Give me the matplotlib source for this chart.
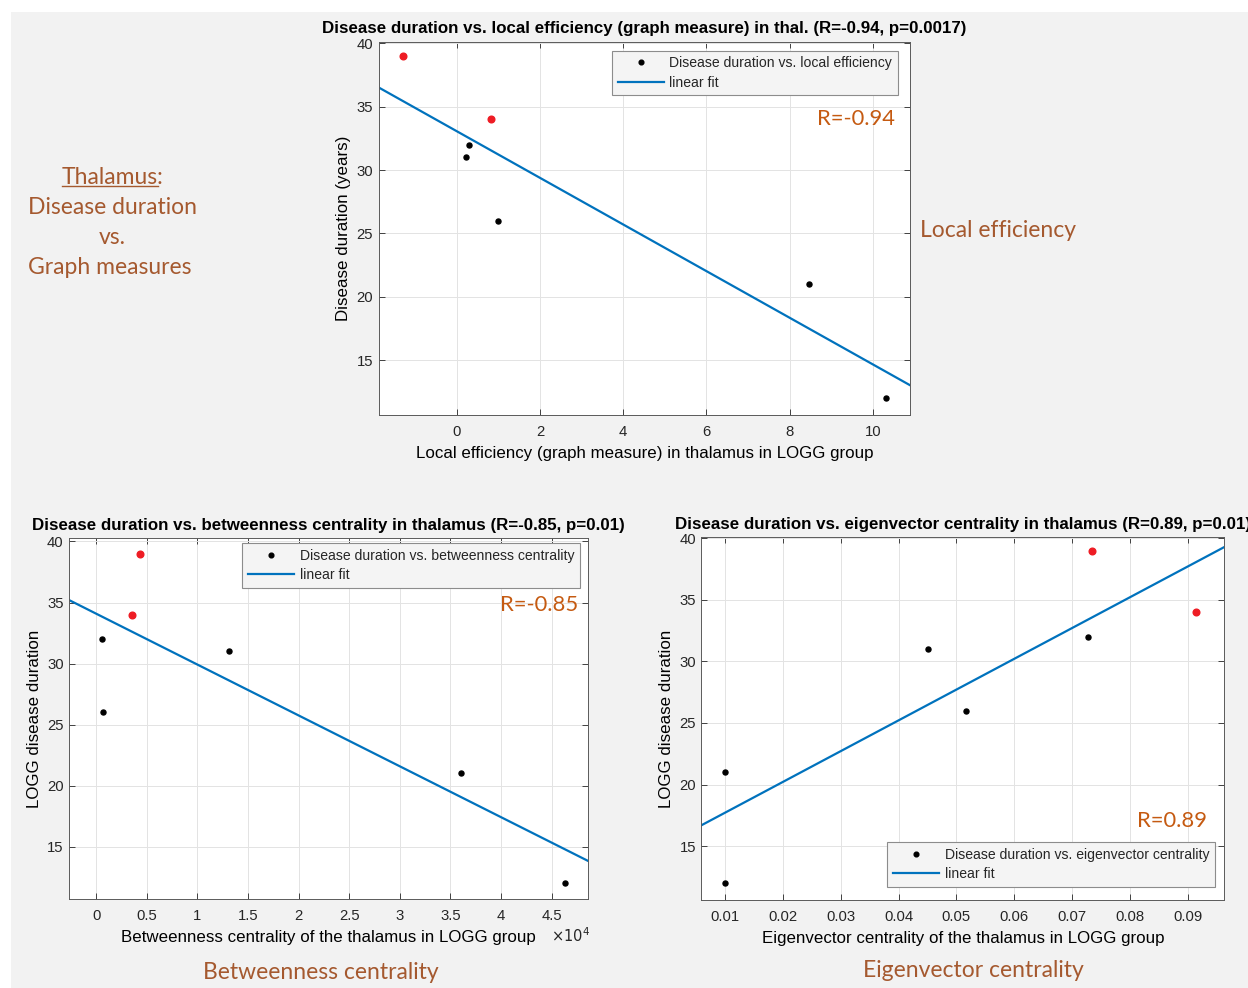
import numpy as np
import matplotlib
matplotlib.use("Agg")
import matplotlib.pyplot as plt
from matplotlib.patches import Rectangle
from matplotlib.lines import Line2D
from matplotlib.ticker import FuncFormatter, MultipleLocator

# same patients in every panel
duration = [39, 34, 32, 31, 26, 21, 12]
highlight = [True, True, False, False, False, False, False]

local_eff = [-1.29, 0.82, 0.29, 0.22, 0.99, 8.46, 10.32]
betweenness = [4370, 3510, 540, 13080, 700, 36050, 46330]
eigenvector = [0.0734, 0.0914, 0.0727, 0.0451, 0.0516, 0.0100, 0.0100]

W, H = 1248, 988
BLUE = "#0072BD"
R_COLOR = "#C55A11"
NOTE_COLOR = "#A5592F"
NOTE_FONT = ["Lato", "DejaVu Sans"]
NOTE_SIZE = 16.5

plt.rcParams["font.family"] = ["Liberation Sans", "DejaVu Sans"]
plt.rcParams["axes.edgecolor"] = "#5a5a5a"
plt.rcParams["axes.linewidth"] = 0.7
plt.rcParams["text.color"] = "#262626"

fig = plt.figure(figsize=(W / 100, H / 100), dpi=100)
fig.patch.set_facecolor("white")
fig.add_artist(Rectangle((11 / W, 0), 1, 1 - 12 / H, transform=fig.transFigure,
                         facecolor="#f2f2f2", edgecolor="none", zorder=-10))


def px_axes(x0, y0, x1, y1):
    return fig.add_axes([x0 / W, 1 - y1 / H, (x1 - x0) / W, (y1 - y0) / H])


def scatter_panel(ax, x, title, xlabel, ylabel, xlim, ylim, label,
                  leg_loc, leg_anchor, r_text, r_pos):
    x = np.asarray(x, dtype=float)
    y = np.asarray(duration, dtype=float)
    red = np.asarray(highlight)
    ax.set_facecolor("white")
    ax.plot(x[~red], y[~red], "o", color="black", ms=3.6, zorder=3)
    ax.plot(x[red], y[red], "o", color="#ee1c24", ms=4.8, zorder=3)
    k, b = np.polyfit(x, y, 1)
    xs = np.array(xlim)
    ax.plot(xs, k * xs + b, color=BLUE, lw=1.6, zorder=2)
    ax.set_xlim(*xlim)
    ax.set_ylim(*ylim)
    ax.yaxis.set_major_locator(MultipleLocator(5))
    ax.grid(True, color="#e3e3e3", lw=0.7)
    ax.set_axisbelow(True)
    ax.tick_params(direction="in", top=True, right=True, length=4,
                   width=0.7, color="#404040", labelsize=10.7,
                   labelcolor="#262626")
    ax.tick_params(axis="x", pad=7)
    ax.tick_params(axis="y", pad=4)
    ax.set_title(title, fontsize=12.2, fontweight="bold", color="black",
                 pad=6)
    ax.set_xlabel(xlabel, fontsize=12.2, labelpad=5)
    ax.set_ylabel(ylabel, fontsize=12.2, labelpad=4)
    handles = [Line2D([], [], ls="none", marker="o", ms=3.4, color="black"),
               Line2D([], [], color=BLUE, lw=1.6)]
    leg = ax.legend(handles, [label, "linear fit"], loc=leg_loc,
                    bbox_to_anchor=leg_anchor, borderaxespad=0,
                    fontsize=10.1, handlelength=3.3, handletextpad=0.4,
                    labelspacing=0.4, borderpad=0.4, fancybox=False,
                    framealpha=1)
    leg.get_frame().set_edgecolor("#8c8c8c")
    leg.get_frame().set_facecolor("#f4f4f4")
    leg.get_frame().set_linewidth(0.8)
    ax.text(r_pos[0], r_pos[1], r_text, transform=ax.transAxes,
            ha="right", va="center", fontsize=15.8, color=R_COLOR,
            family=NOTE_FONT)


ax1 = px_axes(378.5, 41.7, 910, 415)
scatter_panel(ax1, local_eff,
              "Disease duration vs. local efficiency (graph measure) in thal. (R=-0.94, p=0.0017)",
              "Local efficiency (graph measure) in thalamus in LOGG group",
              "Disease duration (years)",
              (-1.88, 10.89), (10.67, 40.13),
              "Disease duration vs. local efficiency",
              "upper right", (0.977, 0.976), "R=-0.94", (0.972, 0.793))
ax1.xaxis.set_major_locator(MultipleLocator(2))

ax2 = px_axes(69.3, 538.3, 588.3, 899)
scatter_panel(ax2, betweenness,
              "Disease duration vs. betweenness centrality in thalamus (R=-0.85, p=0.01)",
              "Betweenness centrality of the thalamus in LOGG group",
              "LOGG disease duration",
              (-2660, 48630), (10.71, 40.26),
              "Disease duration vs. betweenness centrality",
              "upper right", (0.984, 0.987), "R=-0.85", (0.980, 0.815))
ax2.xaxis.set_major_locator(MultipleLocator(5000))
ax2.xaxis.set_major_formatter(FuncFormatter(lambda v, p: "%g" % (v / 1e4)))
ax2.text(1.004, -0.102, r"$\times10^{4}$", transform=ax2.transAxes,
         ha="right", va="center", fontsize=10.5, color="#262626")

ax3 = px_axes(701.5, 537.3, 1224, 900)
scatter_panel(ax3, eigenvector,
              "Disease duration vs. eigenvector centrality in thalamus (R=0.89, p=0.01)",
              "Eigenvector centrality of the thalamus in LOGG group",
              "LOGG disease duration",
              (0.00592, 0.0963), (10.62, 40.08),
              "Disease duration vs. eigenvector centrality",
              "lower right", (0.983, 0.036), "R=0.89", (0.9675, 0.2166))
ax3.xaxis.set_major_locator(MultipleLocator(0.01))
ax3.xaxis.set_major_formatter(FuncFormatter(lambda v, p: "%g" % round(v, 3)))


def note(x, y, s, ha="center"):
    return fig.text(x / W, 1 - y / H, s, ha=ha, va="center",
                    fontsize=NOTE_SIZE, color=NOTE_COLOR, family=NOTE_FONT)


head = note(113, 177, "Thalamus:")
note(112, 208, "Disease duration")
note(112, 238, "vs.")
note(110, 268, "Graph measures")
note(920, 230, "Local efficiency", ha="left")
note(321, 972, "Betweenness centrality")
note(973, 970, "Eigenvector centrality")

# underline "Thalamus" (not the colon)
fig.canvas.draw()
renderer = fig.canvas.get_renderer()
bb = head.get_window_extent(renderer)
colon = fig.text(0, 0, ":", fontsize=NOTE_SIZE, family=NOTE_FONT)
cw = colon.get_window_extent(renderer).width
colon.remove()
uy = bb.y0 + 1
fig.add_artist(Line2D([bb.x0 / W, (bb.x1 - cw) / W], [uy / H, uy / H],
                      transform=fig.transFigure, color=NOTE_COLOR, lw=1.0))

fig.savefig("out.png", dpi=100)
